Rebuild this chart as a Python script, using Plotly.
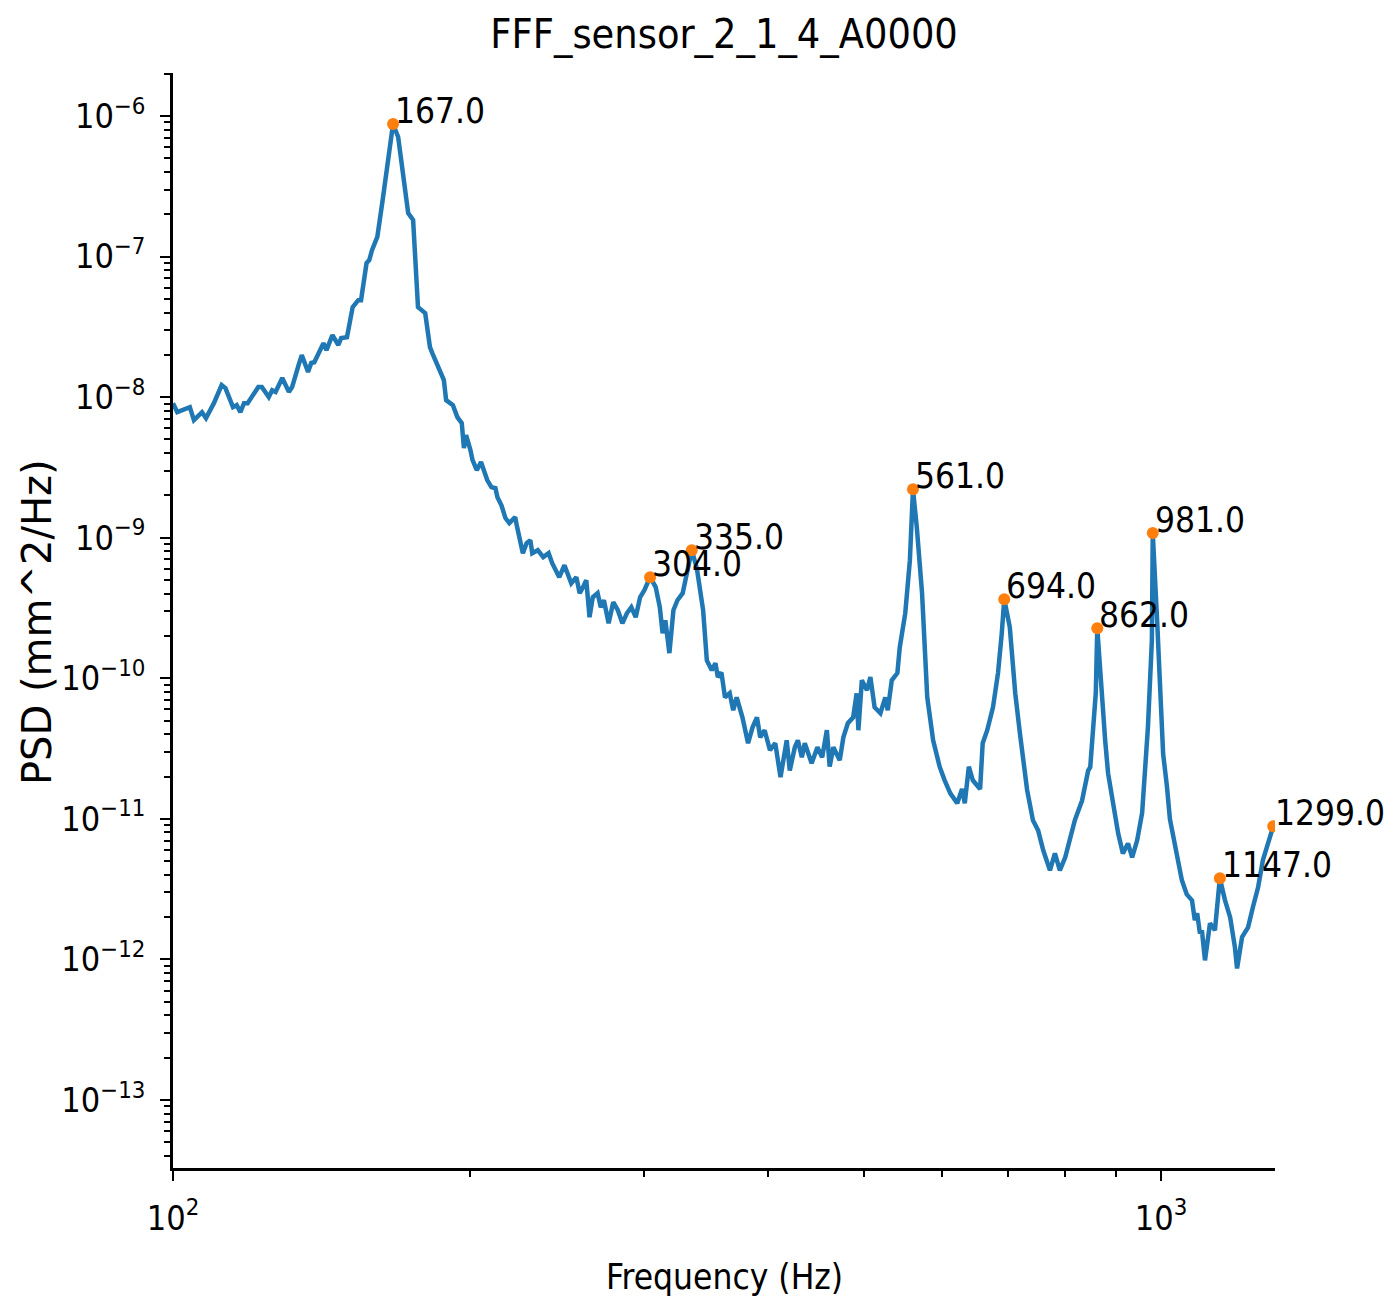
import math
import plotly.graph_objects as go

# ---- data ----
freq_hz = [100, 101, 104, 105, 107, 108, 110, 112, 113, 115, 116, 117, 118, 119, 122, 123, 125, 126, 127, 129,
           131, 132, 134, 135, 137, 138, 139, 142, 143, 145, 147, 148, 150, 152, 154, 155, 157, 158, 159, 161,
           163, 165, 167, 169, 171, 173, 175, 177, 180, 182, 183, 185, 188, 189, 192, 194, 196, 197, 198, 200,
           201, 203, 205, 208, 210, 212, 213, 215, 217, 219, 222, 223, 226, 228, 230, 231, 234, 237, 240, 242,
           245, 246, 249, 252, 253, 256, 258, 260, 262, 264, 266, 269, 271, 273, 276, 279, 282, 285, 288, 291,
           294, 297, 300, 304, 308, 311, 313, 315, 318, 321, 324, 328, 332, 335, 339, 344, 347, 351, 354, 356,
           359, 362, 366, 369, 372, 377, 382, 386, 390, 393, 397, 402, 407, 412, 418, 421, 426, 429, 433, 436,
           443, 449, 454, 459, 462, 466, 473, 477, 482, 488, 492, 494, 498, 504, 508, 513, 520, 526, 529, 534,
           541, 544, 551, 557, 561, 566, 573, 580, 588, 597, 604, 612, 622, 629, 633, 639, 645, 656, 660, 667,
           676, 684, 690, 694, 703, 712, 720, 728, 732, 742, 751, 760, 772, 781, 790, 800, 809, 818, 832, 844,
           848, 853, 859, 862, 872, 878, 884, 894, 905, 915, 926, 935, 946, 957, 963, 970, 979, 981, 991, 998,
           1005, 1014, 1021, 1038, 1050, 1062, 1075, 1082, 1088, 1095, 1100, 1108, 1121, 1134, 1147, 1161, 1175, 1188, 1194, 1208,
           1225, 1239, 1254, 1268, 1289, 1299]

psd = [9.06e-9, 7.82e-9, 8.49e-9, 6.86e-9, 7.82e-9, 7.09e-9, 9.06e-9, 1.22e-8, 1.16e-8, 8.49e-9,
       8.77e-9, 7.82e-9, 9.06e-9, 9.06e-9, 1.18e-8, 1.18e-8, 1.0e-8, 1.12e-8, 1.09e-8, 1.37e-8,
       1.09e-8, 1.18e-8, 1.69e-8, 1.99e-8, 1.51e-8, 1.75e-8, 1.77e-8, 2.42e-8, 2.16e-8, 2.76e-8,
       2.35e-8, 2.63e-8, 2.67e-8, 4.37e-8, 4.90e-8, 4.90e-8, 8.99e-8, 9.44e-8, 1.11e-7, 1.38e-7,
       2.52e-7, 4.86e-7, 8.77e-7, 7.09e-7, 3.68e-7, 2.04e-7, 1.82e-7, 4.37e-8, 3.96e-8, 2.27e-8,
       2.06e-8, 1.75e-8, 1.32e-8, 9.52e-9, 8.77e-9, 7.21e-9, 6.53e-9, 4.34e-9, 5.37e-9, 4.20e-9,
       3.56e-9, 3.02e-9, 3.45e-9, 2.57e-9, 2.29e-9, 2.25e-9, 1.94e-9, 1.70e-9, 1.38e-9, 1.27e-9,
       1.40e-9, 1.19e-9, 7.76e-10, 9.14e-10, 9.60e-10, 7.76e-10, 8.15e-10, 7.27e-10, 7.76e-10, 6.59e-10,
       5.59e-10, 5.24e-10, 6.37e-10, 5.24e-10, 4.74e-10, 5.24e-10, 4.03e-10, 4.45e-10, 4.99e-10, 2.72e-10,
       3.77e-10, 4.03e-10, 3.20e-10, 3.59e-10, 2.46e-10, 3.48e-10, 3.05e-10, 2.46e-10, 2.90e-10, 3.20e-10,
       2.72e-10, 3.77e-10, 4.23e-10, 5.24e-10, 4.45e-10, 3.20e-10, 2.09e-10, 2.59e-10, 1.51e-10, 3.05e-10,
       3.59e-10, 4.03e-10, 6.17e-10, 8.15e-10, 6.07e-10, 3.05e-10, 1.34e-10, 1.14e-10, 1.28e-10, 1.02e-10,
       1.10e-10, 7.32e-11, 7.82e-11, 5.92e-11, 7.32e-11, 5.27e-11, 3.45e-11, 4.48e-11, 5.27e-11, 3.80e-11,
       4.27e-11, 3.08e-11, 3.45e-11, 1.98e-11, 3.62e-11, 2.21e-11, 3.23e-11, 3.62e-11, 2.74e-11, 3.45e-11,
       2.49e-11, 3.23e-11, 2.74e-11, 4.27e-11, 2.35e-11, 3.23e-11, 2.61e-11, 3.80e-11, 4.79e-11, 5.27e-11,
       7.82e-11, 4.27e-11, 9.68e-11, 8.21e-11, 1.02e-10, 6.22e-11, 5.64e-11, 7.32e-11, 5.92e-11, 9.68e-11,
       1.09e-10, 1.66e-10, 2.90e-10, 6.92e-10, 2.21e-9, 1.19e-9, 4.03e-10, 7.32e-11, 3.62e-11, 2.35e-11,
       1.88e-11, 1.52e-11, 1.29e-11, 1.63e-11, 1.29e-11, 2.35e-11, 1.88e-11, 1.63e-11, 3.45e-11, 4.27e-11,
       6.22e-11, 1.09e-10, 2.09e-10, 3.65e-10, 2.31e-10, 7.82e-11, 4.0e-11, 2.35e-11, 1.60e-11, 9.76e-12,
       8.28e-12, 5.97e-12, 4.30e-12, 5.68e-12, 4.30e-12, 5.32e-12, 7.03e-12, 9.76e-12, 1.35e-11, 2.21e-11,
       2.33e-11, 4.06e-11, 7.82e-11, 2.27e-10, 6.22e-11, 3.62e-11, 2.11e-11, 1.29e-11, 7.88e-12, 5.68e-12,
       6.68e-12, 5.32e-12, 7.03e-12, 1.10e-11, 1.98e-11, 4.48e-11, 1.86e-10, 1.08e-9, 2.59e-10, 7.82e-11,
       2.9e-11, 1.7e-11, 1.0e-11, 5.5e-12, 3.65e-12, 2.9e-12, 2.63e-12, 1.90e-12, 2.13e-12, 1.53e-12,
       1.61e-12, 9.84e-13, 1.81e-12, 1.61e-12, 3.78e-12, 2.63e-12, 1.99e-12, 1.22e-12, 8.63e-13, 1.44e-12,
       1.69e-12, 2.36e-12, 3.26e-12, 5.07e-12, 7.39e-12, 8.85e-12]

peak_freq = [167.0, 304.0, 335.0, 561.0, 694.0, 862.0, 981.0, 1147.0, 1299.0]
peak_psd = [8.77e-7, 5.24e-10, 8.15e-10, 2.21e-9, 3.65e-10, 2.27e-10, 1.08e-9, 3.78e-12, 8.85e-12]

title_text = "FFF_sensor_2_1_4_A0000"
x_label = "Frequency (Hz)"
y_label = "PSD (mm^2/Hz)"

y_exps = [-6, -7, -8, -9, -10, -11, -12, -13]
x_exps = [2, 3]

COND = "DejaVu Sans Condensed, Liberation Sans Narrow, DejaVu Sans"

fig = go.Figure()
fig.add_trace(go.Scatter(x=freq_hz, y=psd, mode="lines",
                         line=dict(color="#1f77b4", width=4.5), showlegend=False))
fig.add_trace(go.Scatter(x=peak_freq, y=peak_psd, mode="markers",
                         marker=dict(color="#ff7f0e", size=12), showlegend=False))

# annotations on log axes use log10 coordinates
for f, p in zip(peak_freq, peak_psd):
    fig.add_annotation(x=math.log10(f), y=math.log10(p), xref="x", yref="y", text=f"{f:.1f}",
                       showarrow=False, xanchor="left", yanchor="bottom", borderpad=0,
                       xshift=1, yshift=-8, font=dict(family=COND, size=35, color="black"))

y_major = [10.0 ** e for e in y_exps]
y_minor = [m * 10.0 ** e for e in range(-14, -5) for m in range(2, 10)]
x_major = [10.0 ** e for e in x_exps]
x_minor = [m * 100.0 for m in range(2, 10)]

fig.update_xaxes(type="log", range=[2, 3.1154], showgrid=False, zeroline=False,
                 showline=True, linecolor="black", linewidth=2.5, mirror=False,
                 ticks="outside", ticklen=10, tickwidth=2, tickcolor="black",
                 tickmode="array", tickvals=x_major,
                 ticktext=[f"10<sup>{e}</sup>" for e in x_exps],
                 tickfont=dict(family=COND, size=34, color="black"),
                 ticklabelstandoff=8,
                 minor=dict(tickmode="array", tickvals=x_minor, ticks="outside",
                            ticklen=6, tickwidth=1.5, tickcolor="black", showgrid=False))
fig.update_yaxes(type="log", range=[-13.484, -5.694], showgrid=False, zeroline=False,
                 showline=True, linecolor="black", linewidth=2.5, mirror=False,
                 ticks="outside", ticklen=10, tickwidth=2, tickcolor="black",
                 tickmode="array", tickvals=y_major,
                 ticktext=[f"10<sup>\u2212{-e}</sup>" for e in y_exps],
                 tickfont=dict(family=COND, size=34, color="black"),
                 ticklabelstandoff=8,
                 minor=dict(tickmode="array", tickvals=y_minor, ticks="outside",
                            ticklen=6, tickwidth=1.5, tickcolor="black", showgrid=False))

fig.add_annotation(x=0.5, y=-0.0995, xref="paper", yref="paper", text=x_label, showarrow=False,
                   xanchor="center", yanchor="middle", font=dict(family=COND, size=35, color="black"))
fig.add_annotation(x=-0.1234, y=0.4986, xref="paper", yref="paper", text=y_label, showarrow=False,
                   textangle=-90, xanchor="center", yanchor="middle",
                   font=dict(family="DejaVu Sans", size=40, color="black"))

fig.update_layout(width=1397, height=1302, margin=dict(l=173, r=122, t=73, b=134),
                  paper_bgcolor="white", plot_bgcolor="white",
                  title=dict(text=title_text, x=0.5183, xanchor="center", y=1 - 34 / 1302,
                             yref="container", yanchor="middle",
                             font=dict(family=COND, size=41, color="black")))

fig.write_html("out.html")
